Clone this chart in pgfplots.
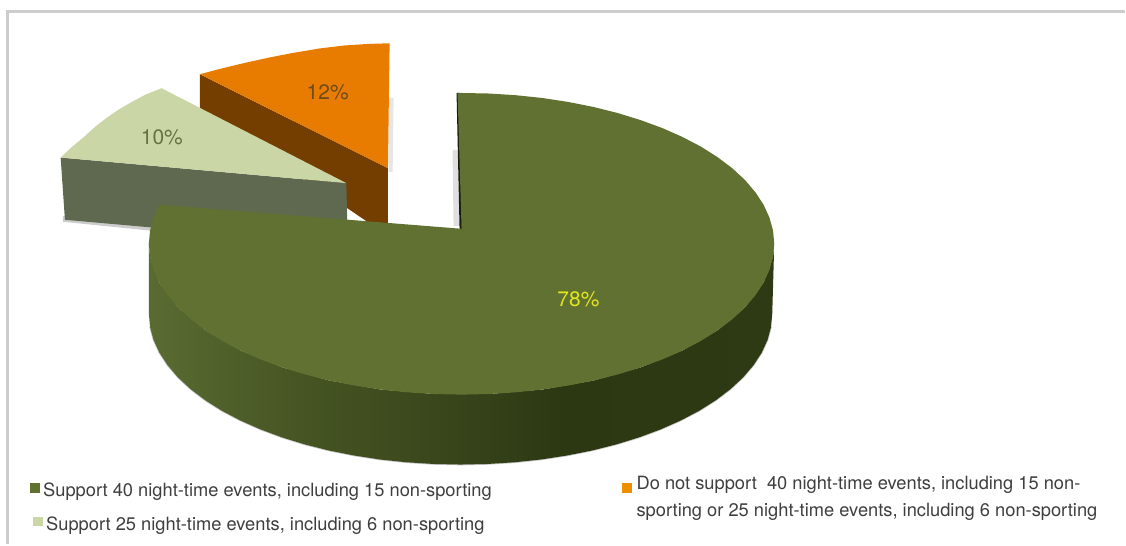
\documentclass[border=0pt]{standalone}
\usepackage{fontspec}
\setmainfont{TeX Gyre Heros}
\usepackage{pgfplots}
\pgfplotsset{compat=1.18}

\definecolor{bigTop}{RGB}{97,113,50}
\definecolor{midTop}{RGB}{203,214,166}
\definecolor{midWall}{RGB}{95,105,80}
\definecolor{orangeTop}{RGB}{232,124,0}
\definecolor{orangeWall}{RGB}{115,62,0}
\definecolor{frameGrey}{RGB}{205,205,205}
\definecolor{legendText}{RGB}{62,62,62}

% Rim of the large slice, darkening from left to right
\pgfdeclarehorizontalshading{rim}{100bp}{
  rgb(0bp)=(0.353,0.420,0.196);
  rgb(25bp)=(0.353,0.420,0.196);
  rgb(37bp)=(0.275,0.333,0.137);
  rgb(50bp)=(0.216,0.267,0.106);
  rgb(58bp)=(0.173,0.220,0.071);
  rgb(75bp)=(0.180,0.227,0.078);
  rgb(100bp)=(0.180,0.227,0.078)}

\begin{document}
\begin{tikzpicture}
\begin{axis}[
  scale only axis, width=1126pt, height=545pt,
  xmin=0, xmax=1126, ymin=0, ymax=545, y dir=reverse,
  axis lines=none, clip=false,
  every axis plot/.append style={draw=none, forget plot},
]
% keep the full page area
\path (axis cs:0,0) rectangle (axis cs:1126,545);

% outer frame
\addplot[draw=frameGrey, line width=2.2pt] coordinates {(7.5,545) (7.5,11.5) (1126,11.5)};

% orange slice: 12%
\addplot[fill=gray, fill opacity=.2] coordinates {(389,98) (394,98) (393,172) (389,172)} --cycle;
\addplot[fill=orangeWall] coordinates {(200,74.3) (388.3,168.3) (388.3,236) (200,108)} --cycle;
\addplot[fill=orangeTop] coordinates {(200,74.3) (222,68.5) (247,62.5) (270,57.5) (293,53) (320,48.5) (345,45.5) (368,44) (390,43.3) (388.3,168.3)} --cycle;

% pale slice: 10%
\addplot[fill=gray, fill opacity=.4] coordinates {(63,216) (63,222) (152,231) (152,226)} --cycle;
\addplot[fill=midWall] coordinates {(60.7,157.7) (346.7,183.3) (348,245) (65,220)} --cycle;
\addplot[fill=midTop] coordinates {(161.7,88.3) (146,94.5) (132,102) (119,109.5) (106.7,118) (94.5,127.5) (83,138) (71.5,147.5) (60.7,157.7) (346.7,183.3)} --cycle;

% rim of the large slice, with its soft edge
\addplot[draw=gray!45, line width=1.6pt] coordinates {
  (150.2,327.2) (153.7,340.2) (159.6,353.1) (167.8,365.6) (178.2,377.8) (190.8,389.5) (205.4,400.6)
  (222,411.1) (240.4,420.8) (260.5,429.7) (282,437.7) (305,444.8) (329.1,450.9) (354.3,455.9)
  (380.2,459.9) (406.8,462.7) (433.8,464.4) (461,465) (488.2,464.4) (515.2,462.7) (541.8,459.9)
  (567.7,455.9) (592.9,450.9) (617,444.8) (640,437.7) (661.5,429.7) (681.6,420.8) (700,411.1)
  (716.6,400.6) (731.2,389.5) (743.8,377.8) (754.2,365.6) (762.4,353.1) (768.3,340.2) (771.8,327.2)};
\addplot[shading=rim] coordinates {
  (775,244) (773.8,257.2) (764.3,283.1) (745.7,307.8) (718.4,330.6) (683.3,350.8) (641.5,367.7)
  (594.3,380.9) (543,389.9) (489.3,394.4) (434.7,394.4) (381,389.9) (329.7,380.9) (282.5,367.7)
  (240.7,350.8) (205.6,330.6) (178.3,307.8) (159.7,283.1) (150.2,257.2) (149,244)
  (149,314) (150.2,327.2) (153.7,340.2) (159.6,353.1) (167.8,365.6) (178.2,377.8) (190.8,389.5) (205.4,400.6)
  (222,411.1) (240.4,420.8) (260.5,429.7) (282,437.7) (305,444.8) (329.1,450.9) (354.3,455.9)
  (380.2,459.9) (406.8,462.7) (433.8,464.4) (461,465) (488.2,464.4) (515.2,462.7) (541.8,459.9)
  (567.7,455.9) (592.9,450.9) (617,444.8) (640,437.7) (661.5,429.7) (681.6,420.8) (700,411.1)
  (716.6,400.6) (731.2,389.5) (743.8,377.8) (754.2,365.6) (762.4,353.1) (768.3,340.2) (771.8,327.2) (773,314)} --cycle;

% large slice: 78%
\addplot[fill=gray, fill opacity=.25] coordinates {(453,150) (458,150) (460,226) (454,226)} --cycle;
\addplot[fill=black!75!bigTop] coordinates {(457,93) (460,93) (464,229) (460,229)} --cycle;
\addplot[fill=bigTop] coordinates {
  (458,93) (489.3,93.6) (516.3,95.3) (543,98.1) (569,102.1) (594.3,107.1) (618.5,113.2) (641.5,120.3)
  (663.2,128.3) (683.3,137.2) (701.8,146.9) (718.4,157.4) (733.1,168.5) (745.7,180.2) (756.1,192.4)
  (764.3,204.9) (770.2,217.8) (773.8,230.8) (775,244) (773.8,257.2) (770.2,270.2) (764.3,283.1)
  (756.1,295.6) (745.7,307.8) (733.1,319.5) (718.4,330.6) (701.8,341.1) (683.3,350.8) (663.2,359.7)
  (641.5,367.7) (618.5,374.8) (594.3,380.9) (569,385.9) (543,389.9) (516.3,392.7) (489.3,394.4)
  (462,395) (434.7,394.4) (407.7,392.7) (381,389.9) (355,385.9) (329.7,380.9) (305.5,374.8)
  (282.5,367.7) (260.8,359.7) (240.7,350.8) (222.2,341.1) (205.6,330.6) (190.9,319.5) (178.3,307.8)
  (167.9,295.6) (159.7,283.1) (153.8,270.2) (150.2,257.2) (149,244) (150.2,230.8) (153.8,217.8)
  (159.7,204.9) (462,229)} --cycle;

% legend swatches
\addplot[fill=bigTop] coordinates {(30,483) (40,483) (40,493) (30,493)} --cycle;
\addplot[fill=midTop] coordinates {(33,517) (43,517) (43,527) (33,527)} --cycle;
\addplot[fill=orangeTop!85!yellow] coordinates {(623,483) (633,483) (633,493) (623,493)} --cycle;

% percentages
\node[font=\fontsize{21}{23}\selectfont, text={rgb,255:red,110;green,75;blue,30}] at (axis cs:328,92) {12\%};
\node[font=\fontsize{21}{23}\selectfont, text={rgb,255:red,100;green,115;blue,70}] at (axis cs:162,137) {10\%};
\node[font=\fontsize{21}{23}\selectfont, text={rgb,255:red,226;green,230;blue,30}] at (axis cs:579,300) {78\%};

% legend texts
\begin{scope}[every node/.style={font=\fontsize{18.3}{20}\selectfont, text=legendText, anchor=base west, inner sep=0pt}]
\node at (axis cs:43,497) {Support 40 night-time events, including 15 non-sporting};
\node at (axis cs:46,531) {Support 25 night-time events, including 6 non-sporting};
\node at (axis cs:637,490) {Do not support\ \ 40 night-time events, including 15 non-};
\node at (axis cs:637,517) {sporting or 25 night-time events, including 6 non-sporting};
\end{scope}
\end{axis}
\end{tikzpicture}
\end{document}
